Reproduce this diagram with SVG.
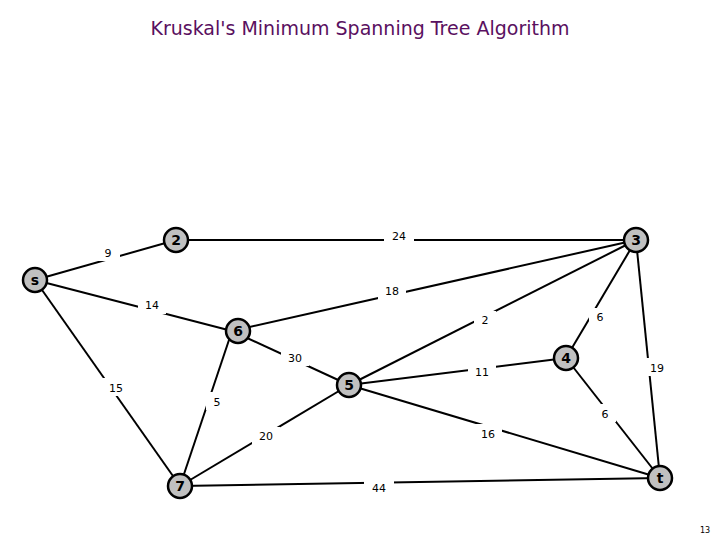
<svg xmlns="http://www.w3.org/2000/svg" width="720" height="540" viewBox="0 0 720 540">
<style>
.e{stroke:#000;stroke-width:2}
.n circle{fill:#c0c0c0;stroke:#000;stroke-width:2.5}
.n text{font-family:"DejaVu Sans",sans-serif;font-weight:bold;font-size:14px;text-anchor:middle}
.w{font-family:"DejaVu Sans",sans-serif;font-size:11px;text-anchor:middle}
.bg{fill:#fff}
</style>
<rect width="720" height="540" fill="#fff"/>
<text x="360" y="35" font-family="DejaVu Sans,sans-serif" font-size="19" fill="#5a1060" text-anchor="middle">Kruskal's Minimum Spanning Tree Algorithm</text>
<g id="connectors">
<line class="e" x1="35" y1="280" x2="176" y2="240"/>
<line class="e" x1="176" y1="240" x2="636" y2="240"/>
<line class="e" x1="35" y1="280" x2="232" y2="331"/>
<line class="e" x1="35" y1="280" x2="180" y2="486"/>
<line class="e" x1="232" y1="331" x2="636" y2="240"/>
<line class="e" x1="349" y1="385" x2="636" y2="240"/>
<line class="e" x1="566" y1="358" x2="636" y2="240"/>
<line class="e" x1="636" y1="240" x2="660" y2="478"/>
<line class="e" x1="232" y1="331" x2="349" y2="385"/>
<line class="e" x1="232" y1="331" x2="180" y2="486"/>
<line class="e" x1="349" y1="385" x2="566" y2="358"/>
<line class="e" x1="349" y1="385" x2="660" y2="478"/>
<line class="e" x1="566" y1="358" x2="660" y2="478"/>
<line class="e" x1="180" y1="486" x2="349" y2="385"/>
<line class="e" x1="180" y1="486" x2="660" y2="478"/>
<g class="bg">
<rect x="96" y="243" width="24" height="18"/>
<rect x="384" y="227" width="30" height="18"/>
<rect x="138" y="296" width="28" height="18"/>
<rect x="102" y="378" width="28" height="18"/>
<rect x="378" y="282" width="28" height="18"/>
<rect x="474" y="311" width="22" height="18"/>
<rect x="589" y="308" width="22" height="18"/>
<rect x="644" y="358" width="26" height="18"/>
<rect x="281" y="348" width="28" height="18"/>
<rect x="206" y="392" width="22" height="18"/>
<rect x="468" y="362" width="28" height="18"/>
<rect x="474" y="424" width="28" height="18"/>
<rect x="594" y="404" width="22" height="18"/>
<rect x="252" y="427" width="28" height="18"/>
<rect x="364" y="479" width="30" height="18"/>
</g>
<text class="w" x="108" y="257">9</text>
<text class="w" x="399" y="240">24</text>
<text class="w" x="152" y="309">14</text>
<text class="w" x="116" y="392">15</text>
<text class="w" x="392" y="295">18</text>
<text class="w" x="485" y="324">2</text>
<text class="w" x="600" y="321">6</text>
<text class="w" x="657" y="372">19</text>
<text class="w" x="295" y="362">30</text>
<text class="w" x="217" y="406">5</text>
<text class="w" x="482" y="376">11</text>
<text class="w" x="488" y="438">16</text>
<text class="w" x="605" y="418">6</text>
<text class="w" x="266" y="440">20</text>
<text class="w" x="379" y="492">44</text>
</g>
<g id="s" class="n"><circle cx="35" cy="280" r="12"/><text x="35" y="285">s</text></g>
<g id="n2" class="n"><circle cx="176" cy="240" r="12"/><text x="176" y="245">2</text></g>
<g id="n3" class="n"><circle cx="636" cy="240" r="12"/><text x="636" y="245">3</text></g>
<g id="n6" class="n"><circle cx="238" cy="331" r="12"/><text x="238" y="336">6</text></g>
<g id="n4" class="n"><circle cx="566" cy="358" r="12"/><text x="566" y="363">4</text></g>
<g id="n5" class="n"><circle cx="349" cy="385" r="12"/><text x="349" y="390">5</text></g>
<g id="n7" class="n"><circle cx="180" cy="486" r="12"/><text x="180" y="491">7</text></g>
<g id="t" class="n"><circle cx="660" cy="478" r="12"/><text x="660" y="483">t</text></g>
<text x="705" y="533" font-family="DejaVu Sans,sans-serif" font-size="8" text-anchor="middle">13</text>
</svg>
